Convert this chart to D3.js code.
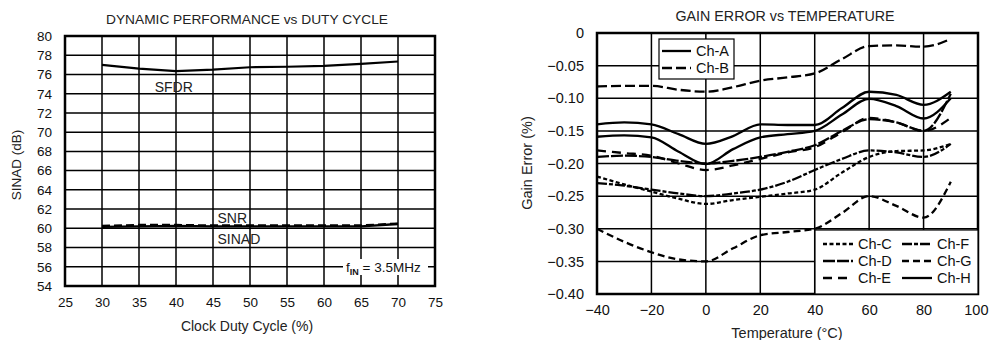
<!DOCTYPE html>
<html>
<head>
<meta charset="utf-8">
<script src="https://cdn.jsdelivr.net/npm/d3@7"></script>
<style>
  body { margin: 0; background: #fff; }
  svg { display: block; font-family: "Liberation Sans", Arial, sans-serif; }
  .lbl path { display: none; }
  .lbl line { display: none; }
  .lbl text { fill: #111; }
</style>
</head>
<body>
<div id="container"></div>
<script>
/* DATA */
// left chart: dynamic performance vs duty cycle
const dutyCycle = [30, 35, 40, 45, 50, 55, 60, 65, 70];
const sfdr  = [77.0, 76.6, 76.35, 76.5, 76.75, 76.8, 76.9, 77.1, 77.35];
const snr   = [60.25, 60.35, 60.35, 60.3, 60.3, 60.3, 60.3, 60.3, 60.5];
const sinad = [60.15, 60.2, 60.25, 60.2, 60.2, 60.2, 60.2, 60.2, 60.45];
const dutyTicks = [25, 30, 35, 40, 45, 50, 55, 60, 65, 70, 75];
const dbTicks = [54, 56, 58, 60, 62, 64, 66, 68, 70, 72, 74, 76, 78, 80];

// right chart: gain error vs temperature
const temps = [-40, -30, -20, -10, 0, 10, 20, 30, 40, 50, 60, 70, 80, 90];
const chA = [-0.140, -0.137, -0.140, -0.155, -0.170, -0.158, -0.140, -0.141, -0.141, -0.115, -0.090, -0.095, -0.110, -0.090];
const chB = [-0.082, -0.081, -0.081, -0.087, -0.090, -0.083, -0.073, -0.068, -0.062, -0.040, -0.020, -0.019, -0.021, -0.009];
const chC = [-0.220, -0.232, -0.243, -0.254, -0.262, -0.256, -0.251, -0.246, -0.240, -0.214, -0.190, -0.181, -0.180, -0.170];
const chD = [-0.190, -0.188, -0.190, -0.196, -0.200, -0.196, -0.190, -0.182, -0.172, -0.150, -0.132, -0.137, -0.150, -0.093];
const chE = [-0.180, -0.184, -0.188, -0.200, -0.210, -0.203, -0.193, -0.183, -0.175, -0.152, -0.130, -0.137, -0.150, -0.130];
const chF = [-0.230, -0.234, -0.240, -0.246, -0.250, -0.246, -0.240, -0.228, -0.210, -0.193, -0.180, -0.183, -0.190, -0.170];
const chG = [-0.300, -0.320, -0.336, -0.347, -0.350, -0.330, -0.310, -0.305, -0.300, -0.276, -0.250, -0.265, -0.283, -0.228];
const chH = [-0.159, -0.157, -0.160, -0.182, -0.201, -0.178, -0.160, -0.155, -0.150, -0.125, -0.101, -0.112, -0.131, -0.100];
const tempTicks = [-40, -20, 0, 20, 40, 60, 80, 100];
const gainTicks = [0, -0.05, -0.10, -0.15, -0.20, -0.25, -0.30, -0.35, -0.40];

const channels = [
  { name: "Ch-A", values: chA, dash: null },
  { name: "Ch-B", values: chB, dash: "10,4" },
  { name: "Ch-C", values: chC, dash: "4,2.5" },
  { name: "Ch-D", values: chD, dash: "12,2" },
  { name: "Ch-E", values: chE, dash: "9,6" },
  { name: "Ch-F", values: chF, dash: "10,2,4,2" },
  { name: "Ch-G", values: chG, dash: "7,4" },
  { name: "Ch-H", values: chH, dash: null }
];

const svg = d3.select("#container").append("svg")
  .attr("width", 989).attr("height", 340);

const minus = s => s.replace("-", "\u2013");

// grid helper: plain lines from the scales
function grid(g, x, y, xt, yt, box) {
  g.append("g").selectAll("line").data(xt).join("line")
    .attr("x1", d => x(d)).attr("x2", d => x(d))
    .attr("y1", box.top).attr("y2", box.bottom)
    .attr("stroke", "#000").attr("stroke-width", 1.5);
  g.append("g").selectAll("line").data(yt).join("line")
    .attr("x1", box.left).attr("x2", box.right)
    .attr("y1", d => y(d)).attr("y2", d => y(d))
    .attr("stroke", "#000").attr("stroke-width", 1.5);
}

/* LEFT CHART */
const L = { left: 65, right: 435, top: 36, bottom: 286 };
const xL = d3.scaleLinear().domain([25, 75]).range([L.left, L.right]);
const yL = d3.scaleLinear().domain([54, 80]).range([L.bottom, L.top]);

const gl = svg.append("g");
grid(gl, xL, yL, dutyTicks, dbTicks, L);

gl.append("g").attr("class", "lbl")
  .attr("transform", `translate(0,${L.bottom})`)
  .call(d3.axisBottom(xL).tickValues(dutyTicks).tickSize(0).tickPadding(11))
  .call(g => g.attr("font-size", 13.5));
gl.append("g").attr("class", "lbl")
  .attr("transform", `translate(${L.left},0)`)
  .call(d3.axisLeft(yL).tickValues(dbTicks).tickSize(0).tickPadding(13))
  .call(g => g.attr("font-size", 13.5));

// fIN note with white background
const note = gl.append("g");
note.append("rect").attr("x", 343).attr("y", 259).attr("width", 85).attr("height", 16).attr("fill", "#fff");
const nt = note.append("text").attr("x", 346).attr("y", 272).attr("font-size", 13.5).attr("fill", "#111");
nt.append("tspan").text("f");
nt.append("tspan").attr("dy", 3).attr("font-size", 9).attr("font-weight", "bold").text("IN");
nt.append("tspan").attr("dy", -3).text(" = 3.5MHz");

gl.append("rect")
  .attr("x", L.left).attr("y", L.top)
  .attr("width", L.right - L.left).attr("height", L.bottom - L.top)
  .attr("fill", "none").attr("stroke", "#000").attr("stroke-width", 2.5);

const lineL = vals => d3.line()
  .x((d, i) => xL(dutyCycle[i]))
  .y(d => yL(d))(vals);

gl.append("path").attr("d", lineL(sfdr)).attr("fill", "none").attr("stroke", "#000").attr("stroke-width", 2.2);
gl.append("path").attr("d", lineL(sinad)).attr("fill", "none").attr("stroke", "#000").attr("stroke-width", 2.4);
gl.append("path").attr("d", lineL(snr)).attr("fill", "none").attr("stroke", "#000").attr("stroke-width", 2.2)
  .attr("stroke-dasharray", "8,4");

gl.append("text").attr("x", xL(39.7)).attr("y", yL(74.2)).attr("text-anchor", "middle")
  .attr("font-size", 14).attr("fill", "#222").text("SFDR");
gl.append("text").attr("x", xL(47.6)).attr("y", yL(60.6)).attr("text-anchor", "middle")
  .attr("font-size", 14).attr("fill", "#222").text("SNR");
gl.append("text").attr("x", xL(48.5)).attr("y", yL(58.4)).attr("text-anchor", "middle")
  .attr("font-size", 14).attr("fill", "#222").text("SINAD");

gl.append("text").attr("x", 247).attr("y", 24).attr("text-anchor", "middle")
  .attr("font-size", 13.5).attr("fill", "#222")
  .attr("textLength", 282).attr("lengthAdjust", "spacingAndGlyphs")
  .text("DYNAMIC PERFORMANCE vs DUTY CYCLE");
gl.append("text").attr("x", 247).attr("y", 331).attr("text-anchor", "middle")
  .attr("font-size", 14).attr("fill", "#222").text("Clock Duty Cycle (%)");
gl.append("text").attr("transform", "translate(21,165) rotate(-90)").attr("text-anchor", "middle")
  .attr("font-size", 13.5).attr("fill", "#222").text("SINAD (dB)");

/* RIGHT CHART */
const R = { left: 597, right: 978, top: 33, bottom: 294 };
const xR = d3.scaleLinear().domain([-40, 100]).range([R.left, R.right]);
const yR = d3.scaleLinear().domain([-0.40, 0]).range([R.bottom, R.top]);

const gr = svg.append("g");
grid(gr, xR, yR, tempTicks, gainTicks, R);

gr.append("g").attr("class", "lbl")
  .attr("transform", `translate(0,${R.bottom})`)
  .call(d3.axisBottom(xR).tickValues(tempTicks).tickSize(0).tickPadding(11)
    .tickFormat(d => minus(d3.format("d")(d))))
  .call(g => g.attr("font-size", 14.5))
  // last label sits against the page edge, as in the original
  .call(g => g.selectAll(".tick").filter(d => d === 100).select("text")
    .attr("text-anchor", "end").attr("dx", 10));
gr.append("g").attr("class", "lbl")
  .attr("transform", `translate(${R.left},0)`)
  .call(d3.axisLeft(yR).tickValues(gainTicks).tickSize(0).tickPadding(13)
    .tickFormat(d => d === 0 ? "0" : minus(d3.format(".2f")(d))))
  .call(g => g.attr("font-size", 14.5));

const lineR = d3.line()
  .x((d, i) => xR(temps[i]))
  .y(d => yR(d))
  .curve(d3.curveMonotoneX);

gr.selectAll(".ch").data(channels).join("path")
  .attr("class", "ch")
  .attr("d", d => lineR(d.values))
  .attr("fill", "none").attr("stroke", "#000").attr("stroke-width", 2.3)
  .attr("stroke-dasharray", d => d.dash);

gr.append("rect")
  .attr("x", R.left).attr("y", R.top)
  .attr("width", R.right - R.left).attr("height", R.bottom - R.top)
  .attr("fill", "none").attr("stroke", "#000").attr("stroke-width", 2.5);

// legend 1 (Ch-A, Ch-B)
const leg1 = gr.append("g");
leg1.append("rect").attr("x", 659).attr("y", 39).attr("width", 75).attr("height", 40)
  .attr("fill", "#fff").attr("stroke", "#000").attr("stroke-width", 1.2);
leg1.selectAll("g").data(channels.slice(0, 2)).join("g")
  .attr("transform", (d, i) => `translate(662,${51 + i * 17})`)
  .each(function (d) {
    const g = d3.select(this);
    g.append("line").attr("x1", 0).attr("x2", 29).attr("stroke", "#000").attr("stroke-width", 2.3)
      .attr("stroke-dasharray", d.dash);
    g.append("text").attr("x", 34).attr("y", 5).attr("font-size", 14.5).attr("fill", "#111").text(d.name);
  });

// legend 2 (Ch-C .. Ch-H)
const leg2 = gr.append("g");
leg2.append("rect").attr("x", 815).attr("y", 230).attr("width", 163).attr("height", 64)
  .attr("fill", "#fff").attr("stroke", "#000").attr("stroke-width", 1.2);
leg2.selectAll("g").data(channels.slice(2)).join("g")
  .attr("transform", (d, i) => `translate(${i < 3 ? 823 : 902},${244 + (i % 3) * 17})`)
  .each(function (d) {
    const g = d3.select(this);
    g.append("line").attr("x1", 0).attr("x2", 30).attr("stroke", "#000").attr("stroke-width", 2.3)
      .attr("stroke-dasharray", d.dash);
    g.append("text").attr("x", 35).attr("y", 5).attr("font-size", 14.5).attr("fill", "#111").text(d.name);
  });

gr.append("text").attr("x", 785).attr("y", 21).attr("text-anchor", "middle")
  .attr("font-size", 14).attr("fill", "#222")
  .attr("textLength", 219).attr("lengthAdjust", "spacingAndGlyphs")
  .text("GAIN ERROR vs TEMPERATURE");
gr.append("text").attr("x", 787).attr("y", 338).attr("text-anchor", "middle")
  .attr("font-size", 14.5).attr("fill", "#222").text("Temperature (\u00B0C)");
gr.append("text").attr("transform", "translate(532,163) rotate(-90)").attr("text-anchor", "middle")
  .attr("font-size", 14.5).attr("fill", "#222").text("Gain Error (%)");
</script>
</body>
</html>
